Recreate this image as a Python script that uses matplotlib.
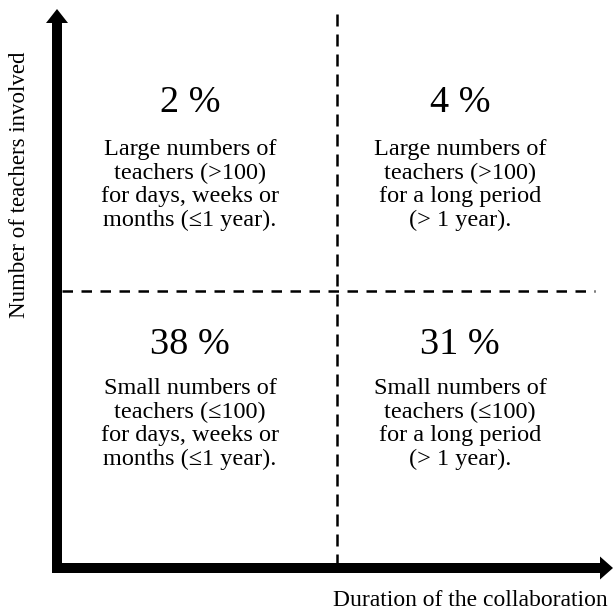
import matplotlib.pyplot as plt

# Quadrant contents (col 0 = short, col 1 = long; row 0 = large, row 1 = small)
percents = [["2 %", "4 %"], ["38 %", "31 %"]]
descriptions = [
    ["Large numbers of\nteachers (>100)\nfor days, weeks or\nmonths (\u22641 year).",
     "Large numbers of\nteachers (>100)\nfor a long period\n(> 1 year)."],
    ["Small numbers of\nteachers (\u2264100)\nfor days, weeks or\nmonths (\u22641 year).",
     "Small numbers of\nteachers (\u2264100)\nfor a long period\n(> 1 year)."],
]
x_label = "Duration of the collaboration"
y_label = "Number of teachers involved"

plt.rcParams['font.family'] = ['Liberation Serif', 'DejaVu Serif']

fig = plt.figure(figsize=(6.15, 6.13), dpi=100)
ax = fig.add_axes([0, 0, 1, 1])
# work in pixel units, y downwards
ax.set_xlim(0, 615)
ax.set_ylim(613, 0)
ax.axis('off')

ox, oy = 57, 568      # origin of the axes arrows
mx, my = 337, 291     # quadrant dividers

# thick axis arrows
ax.arrow(ox, oy + 5, 0, -(oy + 5 - 9), width=10, head_width=22, head_length=14,
         length_includes_head=True, color='black', lw=0)
ax.arrow(ox - 5, oy, 613 - (ox - 5), 0, width=10, head_width=23, head_length=13,
         length_includes_head=True, color='black', lw=0)

# dashed dividers
ax.plot([mx, mx], [14, oy - 5], color='black', lw=1.8, dashes=(4.8, 3.2))
ax.plot([ox + 5, 595], [my, my], color='black', lw=1.8, dashes=(4.2, 3.4))

col_x = [190, 460]
pct_y = [103, 345]
desc_y = [185, 424]
for r in range(2):
    for c in range(2):
        ax.text(col_x[c], pct_y[r], percents[r][c], ha='center', va='center',
                fontsize=27.5)
        ax.text(col_x[c], desc_y[r], descriptions[r][c], ha='center',
                va='center', fontsize=17.5, linespacing=1.15)

ax.text(20, 185, y_label, rotation=90, ha='center', va='center', fontsize=16.5)
ax.text(470, 600, x_label, ha='center', va='center', fontsize=17)

fig.savefig('out.png', dpi=100)
